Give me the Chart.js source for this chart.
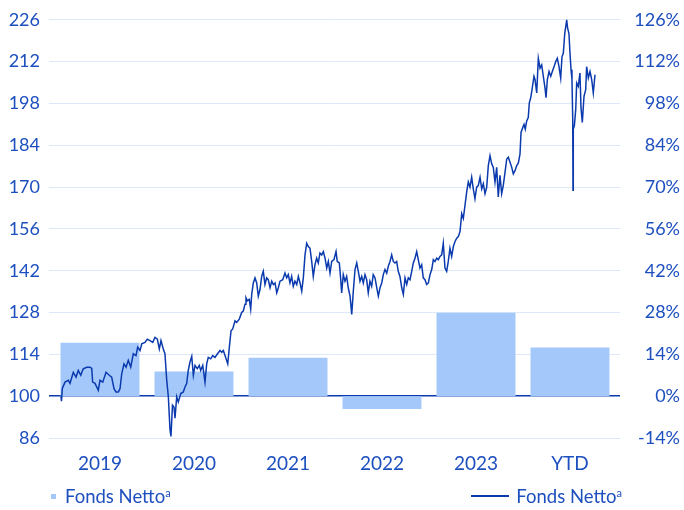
<!DOCTYPE html>
<html>
<head>
<meta charset="utf-8">
<script src="https://cdn.jsdelivr.net/npm/chart.js@4.4.0/dist/chart.umd.min.js"></script>
<style>
  html, body { margin: 0; padding: 0; background: #fff; }
  #wrap { position: relative; width: 684px; height: 510px; }
  #chart { position: absolute; left: 0; top: 0; }
  .leg { position: absolute; top: 486px; font: 18.5px/20px Lato, sans-serif; color: #1d4fbf; white-space: nowrap; display: flex; align-items: center; }
  .leg sup { font-size: 11px; line-height: 0; vertical-align: 6px; }
  .sq { width: 5px; height: 5px; background: #a5c8fb; margin-right: 9px; }
  .ln { width: 38px; height: 1.3px; background: #0a3aad; margin-right: 7px; }
</style>
</head>
<body>
<div id="wrap">
  <canvas id="chart" width="684" height="510"></canvas>
  <div class="leg" style="left:51px"><div class="sq"></div><span>Fonds Netto<sup>a</sup></span></div>
  <div class="leg" style="right:62px"><div class="ln"></div><span>Fonds Netto<sup>a</sup></span></div>
</div>
<script>
const categories = ['2019', '2020', '2021', '2022', '2023', 'YTD'];
// yearly performance in %, right axis
const yearlyReturns = [17.9, 8.3, 12.9, -4.3, 27.9, 16.3];

// indexed fund price [years since start of 2019, value], left axis
const fundLine = [
  [0.085,100],[0.090,98.3],[0.099,102.6],[0.128,104.7],[0.163,105.3],[0.181,104.3],[0.216,108],[0.245,106.4],
  [0.269,108.6],[0.295,107],[0.322,109.2],[0.359,109.7],[0.394,109.7],[0.412,109.3],[0.422,104.7],[0.447,104.3],
  [0.482,102],[0.500,105.3],[0.529,104.7],[0.564,108],[0.599,107],[0.624,106.4],[0.649,102.5],[0.670,101.4],
  [0.695,101.4],[0.713,102.5],[0.731,107.5],[0.755,110.8],[0.777,109.7],[0.801,112],[0.827,109.7],[0.854,114.2],
  [0.883,113.6],[0.901,116.4],[0.926,115.3],[0.944,117.5],[0.979,118],[1.003,119.1],[1.032,118.6],[1.061,118],
  [1.085,119.7],[1.110,119.1],[1.131,115.8],[1.149,118.6],[1.173,115.8],[1.191,114.2],[1.210,105.3],[1.227,99.8],
  [1.245,88.7],[1.255,86.5],[1.271,97],[1.287,96.4],[1.298,92.6],[1.316,99.8],[1.333,98.1],[1.359,100.9],
  [1.386,101.4],[1.404,103.1],[1.422,104.2],[1.439,108.6],[1.457,111.4],[1.476,113.3],[1.493,107],[1.511,110.3],
  [1.535,109.2],[1.556,110.3],[1.571,108.6],[1.593,110.3],[1.617,104.7],[1.635,110.8],[1.652,113],[1.678,112.5],
  [1.699,113.6],[1.723,113],[1.748,114.1],[1.777,115.3],[1.795,114.7],[1.812,115.3],[1.830,113.6],[1.859,110.8],
  [1.876,116.4],[1.894,121.9],[1.912,122.5],[1.936,125.2],[1.954,124.7],[1.982,125.8],[2.007,128],[2.024,128.5],
  [2.043,130.8],[2.053,132.9],[2.067,131.9],[2.088,132.4],[2.103,129.1],[2.114,134.1],[2.131,137.9],[2.149,139.6],
  [2.167,137.9],[2.184,133.5],[2.202,135.7],[2.220,140.1],[2.237,141.8],[2.255,137.4],[2.273,139.6],[2.290,139],
  [2.309,136.3],[2.327,138.5],[2.344,137.4],[2.362,137.9],[2.380,134.6],[2.397,136.3],[2.415,138.5],[2.444,139],
  [2.468,141.2],[2.486,139.6],[2.503,140.7],[2.521,137.9],[2.539,140.1],[2.556,136.8],[2.574,138.5],[2.593,137.4],
  [2.610,140.1],[2.628,137.9],[2.646,135.2],[2.663,139.6],[2.681,147.3],[2.699,151.2],[2.716,150.1],[2.734,149.5],
  [2.752,145.1],[2.769,140.1],[2.787,144],[2.805,146.2],[2.822,144.6],[2.840,147.9],[2.859,147.3],[2.876,148.4],
  [2.894,146.2],[2.912,142.9],[2.929,145.1],[2.947,141.2],[2.965,145.1],[2.989,145.7],[3.011,148.4],[3.024,145.1],
  [3.046,144.6],[3.061,139],[3.071,134.6],[3.088,140.7],[3.106,138.5],[3.124,140.1],[3.141,136.3],[3.160,133.5],
  [3.178,127.4],[3.195,135.2],[3.213,142.4],[3.231,144.6],[3.248,141.8],[3.266,138.5],[3.284,140.1],[3.301,137.9],
  [3.319,140.7],[3.337,139],[3.354,134.6],[3.372,138.5],[3.390,136.8],[3.407,140.7],[3.426,139.6],[3.444,136.3],
  [3.461,133.5],[3.479,136.3],[3.497,137.9],[3.514,140.7],[3.532,142.4],[3.550,141.2],[3.567,143.5],[3.585,145.1],
  [3.603,147.3],[3.620,145.1],[3.638,144.6],[3.656,145.1],[3.673,141.8],[3.691,140.1],[3.710,136.3],[3.727,134.1],
  [3.745,139.6],[3.763,137.4],[3.780,139.6],[3.798,139],[3.816,141.8],[3.833,144.6],[3.851,146.2],[3.869,148.4],
  [3.886,145.7],[3.904,142.9],[3.922,144],[3.939,139.6],[3.957,139],[3.975,137.4],[3.993,137.9],[4.011,140.7],
  [4.029,142.4],[4.046,145.7],[4.064,145.1],[4.082,146.2],[4.099,145.7],[4.117,146.8],[4.135,147.3],[4.152,151.2],
  [4.170,142.9],[4.188,141.8],[4.205,145.1],[4.223,149.5],[4.241,146.8],[4.259,150.1],[4.277,151.8],[4.295,152.9],
  [4.312,153.4],[4.330,155.1],[4.348,161.1],[4.365,159.5],[4.383,163.9],[4.401,168.4],[4.418,171.7],[4.436,170],
  [4.454,173.3],[4.471,169.4],[4.489,166.1],[4.507,170],[4.524,170.5],[4.543,173.3],[4.561,169.4],[4.578,171.1],
  [4.596,167.8],[4.614,170],[4.631,177.2],[4.649,180.5],[4.667,177.8],[4.684,176.6],[4.702,171.7],[4.720,176.6],
  [4.737,166.7],[4.755,173.9],[4.773,167.8],[4.790,170.5],[4.809,175],[4.827,179.4],[4.844,180],[4.862,178.3],
  [4.880,176.6],[4.897,174.4],[4.915,175.5],[4.933,177.2],[4.950,178],[4.968,181],[4.979,188.3],[4.997,189.9],
  [5.011,191],[5.024,189.4],[5.039,192.1],[5.056,193.3],[5.067,198.2],[5.082,199.9],[5.096,202.6],[5.117,207.1],
  [5.128,206],[5.146,201.5],[5.163,213.1],[5.181,209.8],[5.199,210.9],[5.216,207.1],[5.234,203.2],[5.245,199.9],
  [5.259,206],[5.277,208.7],[5.295,207.1],[5.312,208.7],[5.330,210.3],[5.348,212],[5.365,213.1],[5.383,210.3],
  [5.401,206.5],[5.415,213.7],[5.429,214.8],[5.444,221.4],[5.457,224.2],[5.465,225.9],[5.475,223.1],[5.489,221.4],
  [5.500,214.8],[5.511,209.3],[5.521,206],[5.529,192.7],[5.532,168.9],[5.535,189.4],[5.546,190.4],[5.561,196],
  [5.571,204.8],[5.588,203.7],[5.606,208.2],[5.617,196.5],[5.631,191.6],[5.649,200.4],[5.667,202.6],[5.677,210.3],
  [5.695,206.5],[5.713,208.7],[5.731,206],[5.748,201.5],[5.766,207.6]
];

const startYear = 2019;
const leftTicks = { min: 86, max: 226, step: 14 };
const rightTicks = { min: -14, max: 126, step: 14 };

const textColor = '#1d4fbf';
const lineColor = '#0a3aad';
const barColor = '#a5c8fb';
const gridColor = '#dde9fa';

new Chart(document.getElementById('chart'), {
  type: 'bar',
  data: {
    datasets: [
      {
        type: 'line',
        label: 'Fonds Netto',
        data: fundLine.map(p => ({ x: startYear + p[0], y: p[1] })),
        borderColor: lineColor,
        borderWidth: 1.5,
        pointRadius: 0,
        tension: 0,
        xAxisID: 'x',
        yAxisID: 'y',
        order: 0
      },
      {
        label: 'Fonds Netto',
        data: yearlyReturns.map((v, i) => ({ x: startYear + 0.5 + i, y: v })),
        backgroundColor: barColor,
        borderWidth: 0,
        categoryPercentage: 1,
        barPercentage: 0.84,
        xAxisID: 'x',
        yAxisID: 'y1',
        order: 1
      }
    ]
  },
  options: {
    responsive: false,
    animation: false,
    layout: { padding: { top: 16, right: 4, bottom: 30, left: 0 } },
    plugins: {
      legend: { display: false },
      tooltip: { enabled: false }
    },
    scales: {
      x: {
        type: 'linear',
        offset: false,
        min: startYear - 4 / 94,
        max: startYear + 567 / 94,
        grid: { display: false },
        border: { display: false },
        afterBuildTicks: s => { s.ticks = categories.map((c, i) => ({ value: startYear + 0.5 + i })); },
        afterFit: s => { s.height = 42; },
        ticks: {
          padding: 6,
          color: textColor,
          font: { family: 'Lato', size: 19 },
          maxRotation: 0,
          autoSkip: false,
          callback: v => categories[Math.round(v - startYear - 0.5)]
        }
      },
      y: {
        position: 'left',
        min: leftTicks.min,
        max: leftTicks.max,
        afterFit: s => { s.width = 49; },
        border: { display: false },
        grid: {
          drawTicks: false,
          lineWidth: ctx => ctx.tick && ctx.tick.value === 100 ? 1.5 : 1,
          color: ctx => ctx.tick && ctx.tick.value === 100 ? lineColor : gridColor
        },
        ticks: {
          stepSize: leftTicks.step,
          padding: 9,
          color: textColor,
          font: { family: 'Lato', size: 18 }
        }
      },
      y1: {
        position: 'right',
        min: rightTicks.min,
        max: rightTicks.max,
        afterFit: s => { s.width = 60; },
        border: { display: false },
        grid: { display: false, drawTicks: false },
        ticks: {
          stepSize: rightTicks.step,
          crossAlign: 'far',
          color: textColor,
          font: { family: 'Lato', size: 18 },
          callback: v => v + '%'
        }
      }
    }
  }
});
</script>
</body>
</html>
